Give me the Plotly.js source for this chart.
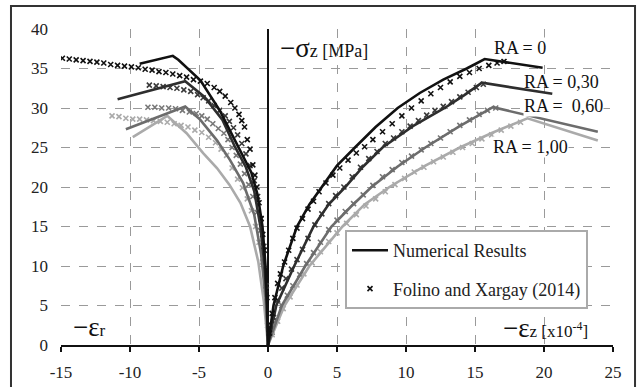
<!DOCTYPE html>
<html><head><meta charset="utf-8">
<script src="https://cdn.plot.ly/plotly-3.0.1.min.js"></script>
<style>html,body{margin:0;padding:0;background:#fff}#chart{width:638px;height:387px}</style>
</head><body><div id="chart"></div>
<script>
// ---- Numerical results (lines) : right side (axial strain -εz) ----
const num0_R_x = [0,0.4,1.1,2.1,3.0,3.9,5.0,6.3,7.8,9.4,11.0,12.7,14.4,15.7,19.9];
const num0_R_y = [0,5,10,15,17.8,20,22.7,25,27.6,30,31.9,33.6,35,36.2,35.1];
const num30_R_x = [0,0.6,1.9,3.3,4.4,5.6,6.9,8.3,10.5,12.8,14.2,15.5,20.6];
const num30_R_y = [0,5,10,15,17.8,20,22.6,25,27.7,30,31.6,33.2,31.8];
const num60_R_x = [0,1.0,2.7,4.6,6.0,7.5,9.4,11.4,13.8,16.3,23.9];
const num60_R_y = [0,5,10,15,17.5,20,22.6,25,27.6,30.1,27.0];
const num100_R_x = [0,1.2,3.0,5.4,7.0,8.8,11.3,13.9,16.3,18.8,23.9];
const num100_R_y = [0,5,10,15,17.8,20,22.6,25,26.9,28.7,25.9];

// ---- Numerical results (lines) : left side (radial strain -εr) ----
const num0_L_x = [-9.3,-6.9,-6.5,-4.9,-3.5,-2.5,-1.8,-1.2,-0.75,-0.4,-0.18,-0.06,0];
const num0_L_y = [35.6,36.6,36.1,33.5,29.7,26.3,24.0,21.8,19.0,15.0,10.0,5.0,0];
const num30_L_x = [-10.9,-6.0,-4.6,-3.3,-2.4,-1.6,-1.0,-0.55,-0.25,-0.08,0];
const num30_L_y = [31.1,33.4,31.4,28.5,25.1,22.5,19.5,15,10,5,0];
const num60_L_x = [-10.3,-6.0,-4.9,-3.7,-2.75,-1.8,-1.0,-0.5,-0.18,0];
const num60_L_y = [27.3,30.2,28.5,25.9,23.4,20.5,16.5,11.5,6,0];
const num100_L_x = [-9.8,-7.3,-5.9,-4.7,-3.7,-2.8,-2.0,-1.3,-0.7,-0.3,0];
const num100_L_y = [26.3,29.0,26.8,24.3,22.4,20.3,18.0,15,10.5,5.5,0];

// ---- Folino and Xargay (2014) experimental points : right side ----
const exp0_R_x = [0.1,0.3,0.5,0.7,0.9,1.2,1.5,1.8,2.1,2.5,2.9,3.3,3.7,4.2,4.7,5.2,5.8,6.4,7.0,7.6,8.3,9.0,9.7,10.4,11.1,11.8,12.5,13.2,13.9,14.6,15.3,16.0,16.6,17.1];
const exp0_R_y = [1.5,4.0,6.0,7.8,9.0,10.5,12.0,13.5,14.8,16.0,17.2,18.2,19.4,20.5,21.5,22.4,23.4,24.3,25.1,26.0,27.0,28.0,29.0,30.0,30.9,31.8,32.6,33.3,34.0,34.5,35.0,35.4,35.7,35.9];
const exp30_R_x = [0.2,0.4,0.7,1.0,1.3,1.7,2.1,2.5,2.9,3.4,3.9,4.4,4.9,5.5,6.1,6.7,7.3,7.9,8.5,9.1,9.7,10.3,10.9,11.5,12.1,12.7,13.3,13.9,14.5,15.1,15.6];
const exp30_R_y = [1.8,3.5,5.7,7.2,8.4,9.6,10.8,12.1,13.5,15.2,16.6,17.9,18.9,20.0,21.3,22.5,23.6,24.5,25.5,26.2,27.0,27.7,28.4,29.1,29.7,30.2,30.8,31.4,32.0,32.6,33.0];
const exp60_R_x = [0.3,0.6,1.0,1.4,1.8,2.3,2.8,3.3,3.8,4.4,5.0,5.6,6.2,6.9,7.6,8.3,9.0,9.7,10.4,11.1,11.8,12.5,13.2,13.9,14.6,15.3,15.9,16.5];
const exp60_R_y = [1.6,3.1,5.0,6.3,7.5,8.9,10.3,11.7,13.0,14.6,15.8,16.9,17.9,19.0,20.2,21.3,22.2,23.1,23.9,24.7,25.5,26.2,27.0,27.8,28.5,29.2,29.7,30.0];
const exp100_R_x = [0.3,0.7,1.1,1.6,2.1,2.6,3.2,3.8,4.4,5.0,5.7,6.4,7.1,7.8,8.5,9.2,9.9,10.6,11.3,12.0,12.7,13.4,14.1,14.8,15.5,16.2,16.9,17.6,18.3];
const exp100_R_y = [1.3,3.0,4.6,6.1,7.6,9.0,10.4,11.8,13.1,14.2,15.4,16.5,17.6,18.5,19.4,20.3,21.1,21.9,22.5,23.2,23.8,24.4,25.0,25.5,26.1,26.6,27.2,27.7,28.2];

// ---- Folino and Xargay (2014) experimental points : left side ----
const exp0_L_x = [-14.9,-14.4,-13.9,-13.4,-12.9,-12.4,-11.9,-11.4,-10.9,-10.4,-9.9,-9.4,-8.9,-8.4,-7.9,-7.4,-6.9,-6.4,-5.9,-5.4,-4.9,-4.4,-3.9,-3.5,-3.1,-2.7,-2.4,-2.1,-1.9,-1.7,-1.5,-1.3,-1.1,-0.95,-0.8,-0.65,-0.5,-0.38,-0.27,-0.17,-0.08,-0.02];
const exp0_L_y = [36.3,36.2,36.1,36.0,35.9,35.8,35.7,35.5,35.4,35.3,35.2,35.1,34.9,34.8,34.6,34.5,34.3,34.1,33.9,33.6,33.4,33.1,32.6,32.1,31.5,30.7,30.0,29.2,28.4,27.6,26.0,24.8,22.8,21.5,20.0,18.0,16.0,14.0,12.0,9.5,6.0,2.5];
const exp30_L_x = [-8.6,-8.1,-7.6,-7.1,-6.6,-6.1,-5.6,-5.1,-4.7,-4.3,-3.9,-3.5,-3.1,-2.8,-2.5,-2.2,-1.9,-1.6,-1.3,-1.0,-0.75,-0.5,-0.3,-0.12];
const exp30_L_y = [32.9,32.8,32.7,32.6,32.5,32.3,32.1,31.7,31.3,30.9,30.3,29.7,29.0,28.3,27.5,26.6,25.5,24.2,22.7,20.8,18.8,16.0,12.5,7.5];
const exp60_L_x = [-8.7,-8.2,-7.7,-7.2,-6.7,-6.2,-5.7,-5.2,-4.8,-4.4,-4.0,-3.6,-3.2,-2.9,-2.6,-2.3,-2.0,-1.7,-1.4,-1.1,-0.8,-0.55,-0.35,-0.15];
const exp60_L_y = [30.1,30.1,30.0,30.0,29.9,29.7,29.5,29.3,29.0,28.6,28.0,27.4,26.8,26.0,25.0,24.0,22.9,21.7,20.3,18.8,16.8,14.5,11.8,7.5];
const exp100_L_x = [-11.3,-10.8,-10.3,-9.8,-9.3,-8.8,-8.3,-7.8,-7.3,-6.8,-6.3,-5.8,-5.3,-4.8,-4.3,-3.8,-3.4,-3.0,-2.6,-2.2,-1.85,-1.5,-1.2,-0.9,-0.65,-0.4,-0.2];
const exp100_L_y = [29.0,28.9,28.7,28.6,28.6,28.5,28.4,28.3,28.2,28.0,27.8,27.6,27.2,26.9,26.3,25.6,24.8,24.0,22.4,21.0,19.9,18.5,17.0,15.0,13.0,10.5,7.0];

// ---- labels ----
const xTicks = [-15,-10,-5,0,5,10,15,20,25];
const yTicks = [0,5,10,15,20,25,30,35,40];
const raLabels = ["RA = 0","RA = 0,30","RA =  0,60","RA = 1,00"];
const legendNames = ["Numerical Results","Folino and Xargay (2014)"];

const FONT = 'Liberation Serif';
const lineCol = ['#111111','#2e2e2e','#6c6c6c','#aaaaaa'];
const markCol = ['#111111','#3a3a3a','#777777','#aaaaaa'];

function expTrace(x,y,c,show){
  return {x:x,y:y,type:'scatter',mode:'markers',showlegend:!!show,name:legendNames[1],legendgroup:'b',
    marker:{symbol:'x-thin',size:5,color:c,line:{color:c,width:1.6}},hoverinfo:'skip'};
}
function numTrace(x,y,c,show){
  return {x:x,y:y,type:'scatter',mode:'lines',showlegend:!!show,name:legendNames[0],legendgroup:'a',
    line:{color:c,width:2.6},hoverinfo:'skip'};
}
const data = [
  expTrace(exp100_L_x,exp100_L_y,markCol[3]), expTrace(exp100_R_x,exp100_R_y,markCol[3]),
  expTrace(exp60_L_x,exp60_L_y,markCol[2]), expTrace(exp60_R_x,exp60_R_y,markCol[2]),
  expTrace(exp30_L_x,exp30_L_y,markCol[1]), expTrace(exp30_R_x,exp30_R_y,markCol[1]),
  expTrace(exp0_L_x,exp0_L_y,markCol[0]), 
  numTrace(num100_L_x,num100_L_y,lineCol[3]), numTrace(num100_R_x,num100_R_y,lineCol[3]),
  numTrace(num60_L_x,num60_L_y,lineCol[2]), numTrace(num60_R_x,num60_R_y,lineCol[2]),
  numTrace(num30_L_x,num30_L_y,lineCol[1]), numTrace(num30_R_x,num30_R_y,lineCol[1]),
  numTrace(num0_L_x,num0_L_y,lineCol[0]), numTrace(num0_R_x,num0_R_y,lineCol[0],true),
  expTrace(exp0_R_x,exp0_R_y,markCol[0],true)
];

const big = s => '<span style="font-size:27px">'+s+'</span>';
const layout = {
  width:638, height:387,
  margin:{l:61,r:25,t:29,b:42},
  paper_bgcolor:'#fff', plot_bgcolor:'#fff',
  font:{family:FONT,size:17,color:'#222'},
  showlegend:true,
  legend:{x:0.5145,y:0.364,xanchor:'left',yanchor:'top',bgcolor:'#fff',bordercolor:'#aaaaaa',borderwidth:2,
    font:{family:FONT,size:18,color:'#222'},traceorder:'grouped',tracegroupgap:12,itemwidth:36},
  xaxis:{range:[-15,25],tickmode:'array',tickvals:xTicks,ticktext:xTicks.map(String),
    tickfont:{family:FONT,size:17,color:'#222'},
    showgrid:true,gridcolor:'#9a9a9a',griddash:'dash',gridwidth:1,
    showline:true,linecolor:'#111',linewidth:2,ticks:'outside',ticklen:5,tickwidth:1.5,tickcolor:'#111',
    zeroline:true,zerolinecolor:'#111',zerolinewidth:2,ticklabelstandoff:6,fixedrange:true},
  yaxis:{range:[0,40],tickmode:'array',tickvals:yTicks,ticktext:yTicks.map(String),
    tickfont:{family:FONT,size:17,color:'#222'},
    showgrid:true,gridcolor:'#9a9a9a',griddash:'dash',gridwidth:1,
    showline:false,ticks:'',zeroline:false,ticklabelstandoff:12,fixedrange:true},
  yaxis2:{range:[0,40],overlaying:'y',anchor:'free',position:0.375,side:'left',tickmode:'array',tickvals:yTicks,
    showticklabels:false,showgrid:false,zeroline:false,showline:false,ticks:'outside',ticklen:5,tickwidth:1.5,tickcolor:'#111',fixedrange:true},
  shapes:[{type:'rect',xref:'paper',yref:'paper',x0:-0.0906,x1:1.0399,y0:-0.16,y1:1.0728,line:{color:'#333',width:2}}],
  annotations:[
    {xref:'x',yref:'y',x:0.72,y:37.6,xanchor:'left',yanchor:'middle',showarrow:false,
     text:big('−σ')+'z [MPa]',font:{family:FONT,size:18,color:'#111'}},
    {xref:'x',yref:'y',x:-14.3,y:2.3,xanchor:'left',yanchor:'middle',showarrow:false,
     text:big('−ε')+'r',font:{family:FONT,size:17,color:'#111'}},
    {xref:'x',yref:'y',x:16.9,y:2.2,xanchor:'left',yanchor:'middle',showarrow:false,
     text:big('−ε')+'z [x10<sup>-4</sup>]',font:{family:FONT,size:17,color:'#111'}},
    {xref:'x',yref:'y',x:16.3,y:37.6,xanchor:'left',yanchor:'middle',showarrow:false,bgcolor:'#fff',borderpad:0,
     text:raLabels[0],font:{family:FONT,size:18,color:'#111'}},
    {xref:'x',yref:'y',x:18.5,y:33.3,xanchor:'left',yanchor:'middle',showarrow:false,borderpad:0,
     text:raLabels[1],font:{family:FONT,size:18,color:'#111'}},
    {xref:'x',yref:'y',x:18.5,y:30.3,xanchor:'left',yanchor:'middle',showarrow:false,bgcolor:'#fff',borderpad:0,
     text:raLabels[2].replace('  ','&nbsp; '),font:{family:FONT,size:18,color:'#111'}},
    {xref:'x',yref:'y',x:16.2,y:25.1,xanchor:'left',yanchor:'middle',showarrow:false,bgcolor:'#fff',borderpad:0,
     text:raLabels[3],font:{family:FONT,size:18,color:'#111'}}
  ]
};
Plotly.newPlot('chart',data,layout,{staticPlot:true,displayModeBar:false});
</script></body></html>
